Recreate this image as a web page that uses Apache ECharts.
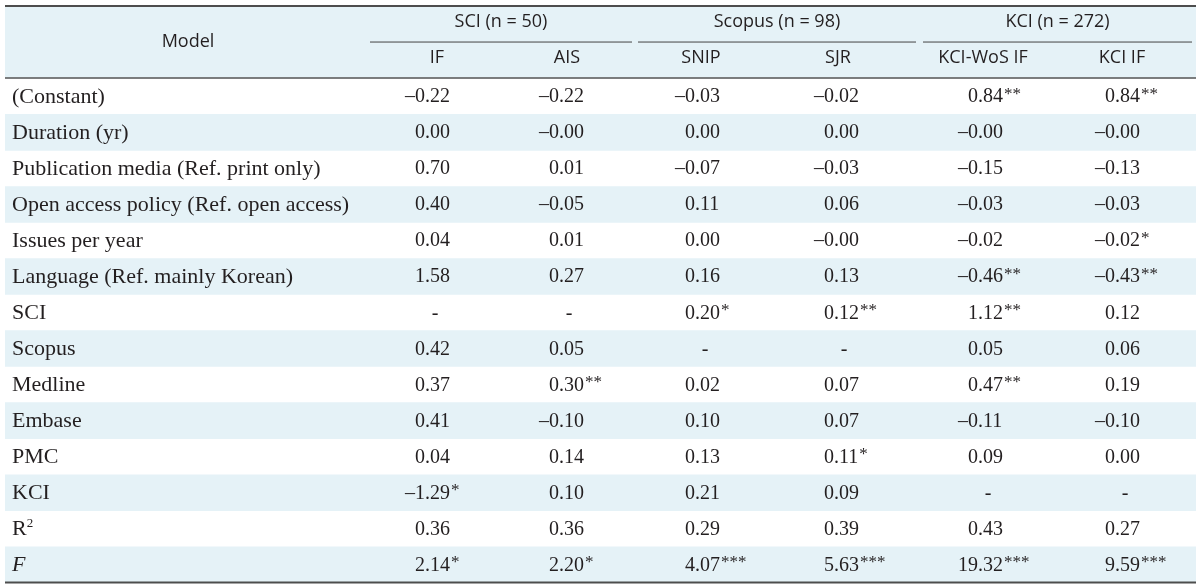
<!DOCTYPE html>
<html>
<head>
<meta charset="utf-8">
<script src="https://cdn.jsdelivr.net/npm/echarts@6/dist/echarts.min.js"></script>
<style>html,body{margin:0;padding:0;background:#fff}#c{width:1200px;height:588px}</style>
</head>
<body>
<div id="c"></div>
<script>
// ---- data ----
const rowLabels = ['(Constant)', 'Duration (yr)', 'Publication media (Ref. print only)',
  'Open access policy (Ref. open access)', 'Issues per year', 'Language (Ref. mainly Korean)',
  'SCI', 'Scopus', 'Medline', 'Embase', 'PMC', 'KCI', 'R2', 'F'];
const groupLabels = ['SCI (n = 50)', 'Scopus (n = 98)', 'KCI (n = 272)'];
const columnLabels = ['IF', 'AIS', 'SNIP', 'SJR', 'KCI-WoS IF', 'KCI IF'];
const valIF     = ['-0.22', '0.00', '0.70', '0.40', '0.04', '1.58', '-', '0.42', '0.37', '0.41', '0.04', '-1.29*', '0.36', '2.14*'];
const valAIS    = ['-0.22', '-0.00', '0.01', '-0.05', '0.01', '0.27', '-', '0.05', '0.30**', '-0.10', '0.14', '0.10', '0.36', '2.20*'];
const valSNIP   = ['-0.03', '0.00', '-0.07', '0.11', '0.00', '0.16', '0.20*', '-', '0.02', '0.10', '0.13', '0.21', '0.29', '4.07***'];
const valSJR    = ['-0.02', '0.00', '-0.03', '0.06', '-0.00', '0.13', '0.12**', '-', '0.07', '0.07', '0.11*', '0.09', '0.39', '5.63***'];
const valKCIWoS = ['0.84**', '-0.00', '-0.15', '-0.03', '-0.02', '-0.46**', '1.12**', '0.05', '0.47**', '-0.11', '0.09', '-', '0.43', '19.32***'];
const valKCIIF  = ['0.84**', '-0.00', '-0.13', '-0.03', '-0.02*', '-0.43**', '0.12', '0.06', '0.19', '-0.10', '0.00', '-', '0.27', '9.59***'];
const columnValues = [valIF, valAIS, valSNIP, valSJR, valKCIWoS, valKCIIF];

// ---- layout (positions on the hidden 0..1200 x axis) ----
const TABLE_L = 5, TABLE_R = 1196;
const LABEL_X = 12, MODEL_X = 188;
const colHeaderX = [437, 567, 701, 838, 983, 1122];
const colDecimalX = [425, 559, 695, 834, 978, 1115];
const groupSpan = [[370, 632], [638, 916], [923, 1192]];
const HEADER_BANDS = 2;
const bands = ['h0', 'h1'].concat(rowLabels);

const INK = '#231f20';
const BLUE = '#e5f2f7';
const SERIF = '"Liberation Serif", "Times New Roman", serif';
const SANS = '"Open Sans", "Noto Sans", sans-serif';
const NUM_SIZE = 20;
const LABEL_SIZE = 22;

function bandH(api) { return api.size([0, 1])[1]; }
function bandTop(api, k) { return api.coord([0, k])[1] - bandH(api) / 2; }

const chart = echarts.init(document.getElementById('c'), null, { renderer: 'canvas' });

const series = [];

// stripes
series.push({
  type: 'custom', silent: true, z: 1,
  data: bands.map((b, k) => [TABLE_L, k]),
  renderItem(params, api) {
    const k = params.dataIndex;
    const blue = k < HEADER_BANDS || (k - HEADER_BANDS) % 2 === 1;
    if (!blue) return;
    const x0 = api.coord([TABLE_L, k])[0], x1 = api.coord([TABLE_R, k])[0];
    const y = bandTop(api, k);
    return { type: 'rect', shape: { x: x0, y: y, width: x1 - x0, height: bandH(api) + 0.5 }, style: { fill: BLUE } };
  }
});

// rules
series.push({
  type: 'custom', silent: true, z: 5,
  data: [[TABLE_L, 0]],
  renderItem(params, api) {
    const x0 = api.coord([TABLE_L, 0])[0], x1 = api.coord([TABLE_R, 0])[0];
    const yTop = bandTop(api, 0);
    const yHead = bandTop(api, HEADER_BANDS);
    const yBot = bandTop(api, bands.length - 1) + bandH(api);
    const ySub = bandTop(api, 1);
    const children = [
      { type: 'line', shape: { x1: x0, y1: yTop, x2: x1, y2: yTop }, style: { stroke: '#4d4d4d', lineWidth: 2 } },
      { type: 'line', shape: { x1: x0, y1: yHead, x2: x1, y2: yHead }, style: { stroke: '#555', lineWidth: 1.5 } },
      { type: 'line', shape: { x1: x0, y1: yBot, x2: x1, y2: yBot }, style: { stroke: '#4d4d4d', lineWidth: 2 } }
    ];
    groupSpan.forEach(s => {
      const a = api.coord([s[0], 1])[0], b = api.coord([s[1], 1])[0];
      children.push({ type: 'line', shape: { x1: a, y1: ySub, x2: b, y2: ySub }, style: { stroke: '#444', lineWidth: 1 } });
    });
    return { type: 'group', children };
  }
});

// header texts
series.push({
  type: 'custom', silent: true, z: 10,
  data: [[MODEL_X, 0]],
  renderItem(params, api) {
    const children = [];
    const hStyle = (t) => ({ text: t, fill: INK, font: '500 18px ' + SANS, align: 'center', verticalAlign: 'middle' });
    const yModel = bandTop(api, 1);
    children.push({ type: 'text', x: api.coord([MODEL_X, 0])[0], y: yModel, style: hStyle('Model') });
    groupLabels.forEach((g, i) => {
      const cx = (groupSpan[i][0] + groupSpan[i][1]) / 2;
      const p = api.coord([cx, 0]);
      children.push({ type: 'text', x: p[0], y: p[1] - 2, style: hStyle(g) });
    });
    columnLabels.forEach((c, i) => {
      const p = api.coord([colHeaderX[i], 1]);
      children.push({ type: 'text', x: p[0], y: p[1] - 2, style: hStyle(c) });
    });
    return { type: 'group', children };
  }
});

// row labels
series.push({
  type: 'custom', silent: true, z: 10,
  data: rowLabels.map((r, i) => [LABEL_X, i + HEADER_BANDS]),
  renderItem(params, api) {
    const label = rowLabels[params.dataIndex];
    const p = api.coord([LABEL_X, params.dataIndex + HEADER_BANDS]);
    let text = label;
    const rich = {
      sup: { fontSize: 13, fontFamily: SERIF, fill: INK, verticalAlign: 'top', lineHeight: 14 },
      it: { fontSize: LABEL_SIZE, fontFamily: SERIF, fontStyle: 'italic', fill: INK, lineHeight: 24 }
    };
    if (label === 'R2') text = 'R{sup|2}';
    if (label === 'F') text = '{it|F}';
    return {
      type: 'text', x: p[0], y: p[1] + 1,
      style: { text, rich, fill: INK, font: LABEL_SIZE + 'px ' + SERIF, align: 'left', verticalAlign: 'middle', lineHeight: 24 }
    };
  }
});

// value columns (decimal aligned)
columnValues.forEach((vals, j) => {
  series.push({
    type: 'custom', silent: true, z: 10,
    data: vals.map((v, i) => [colDecimalX[j], i + HEADER_BANDS]),
    renderItem(params, api) {
      const raw = vals[params.dataIndex];
      const p = api.coord([colDecimalX[j], params.dataIndex + HEADER_BANDS]);
      const y = p[1] + 1;
      const base = { fill: INK, font: NUM_SIZE + 'px ' + SERIF, verticalAlign: 'middle', lineHeight: 22 };
      if (raw === '-') {
        return { type: 'text', x: p[0] + 10, y, style: Object.assign({ text: '-', align: 'center' }, base) };
      }
      const m = raw.match(/^(-?)(\d+)(\.\d+)(\**)$/);
      const left = (m[1] ? '\u2013' : '') + m[2];
      const right = m[3] + (m[4] ? '{s|' + m[4] + '}' : '');
      const rich = { s: { fontSize: 17, fontFamily: SERIF, fill: INK, verticalAlign: 'top', lineHeight: 17, padding: [0, 0, 0, 1] } };
      return {
        type: 'group', children: [
          { type: 'text', x: p[0], y, style: Object.assign({ text: left, align: 'right' }, base) },
          { type: 'text', x: p[0], y, style: Object.assign({ text: right, align: 'left', rich }, base) }
        ]
      };
    }
  });
});

chart.setOption({
  animation: false,
  grid: { left: 0, right: 0, top: 6, bottom: 5.5 },
  xAxis: { type: 'value', min: 0, max: 1200, show: false },
  yAxis: { type: 'category', data: bands, inverse: true, show: false },
  series
});
</script>
</body>
</html>
